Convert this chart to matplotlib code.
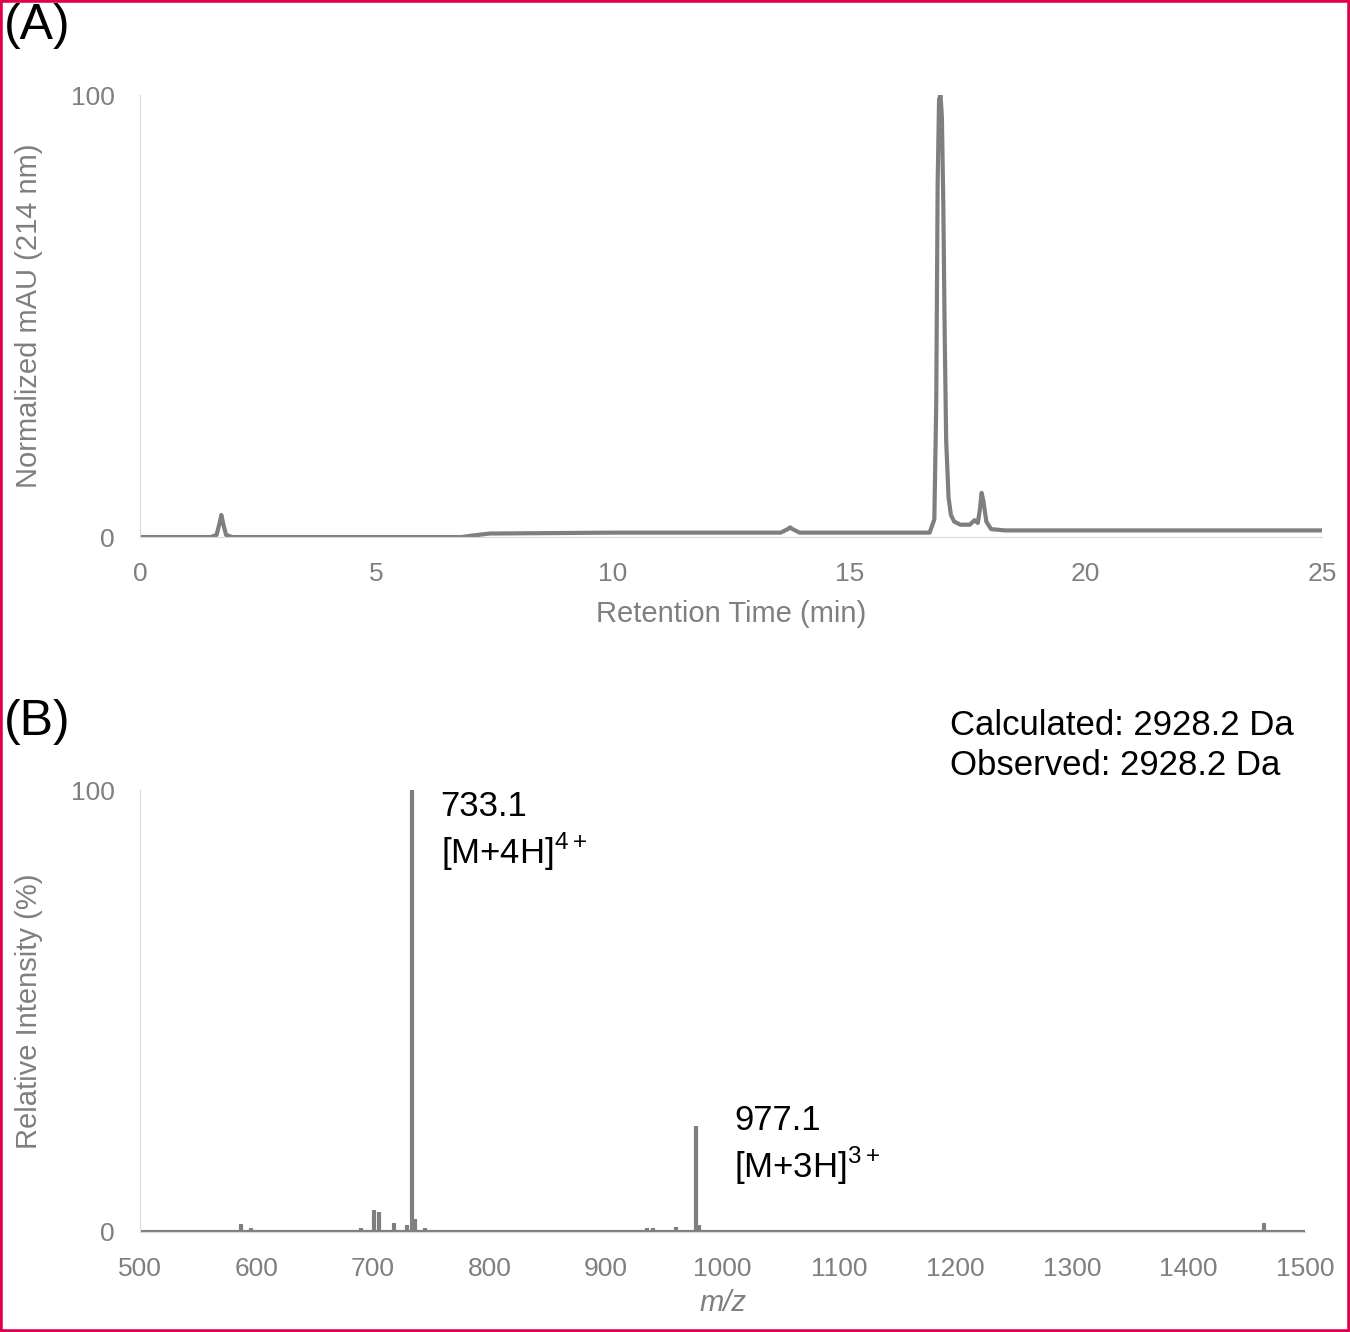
import matplotlib
matplotlib.use('Agg')
import matplotlib.pyplot as plt
from matplotlib.patches import Rectangle

plt.rcParams['font.family'] = ['Liberation Sans', 'DejaVu Sans']

# (A) chromatogram
rt_min = [0, 1.5, 1.62, 1.68, 1.72, 1.76, 1.82, 1.95, 6.8, 7.0, 7.4, 10, 13.55, 13.7, 13.75, 13.8, 13.95,
          16.7, 16.8, 16.84, 16.87, 16.9, 16.93, 16.96, 16.99, 17.02, 17.05, 17.1, 17.15, 17.22, 17.35,
          17.55, 17.65, 17.72, 17.76, 17.8, 17.84, 17.9, 18.0, 18.3, 25]
mau = [0, 0, 0.5, 3, 5, 3, 0.5, 0, 0, 0.3, 0.8, 1, 1, 1.8, 2.2, 1.8, 1,
       1, 4, 30, 80, 99, 100, 95, 75, 45, 22, 9, 5, 3.5, 2.8,
       2.8, 3.8, 3.2, 6, 10, 8, 3.5, 1.8, 1.5, 1.5]

# (B) mass spectrum sticks
mz = [570, 587, 595, 690, 701, 705, 718, 729, 733.1, 736, 745, 765, 840, 935, 940, 960, 977.1, 980, 1465]
intensity = [0.5, 1.8, 1.0, 0.8, 5, 4.5, 2, 1.5, 100, 3, 1, 0.5, 0.4, 1, 0.8, 1.2, 24, 1.5, 2]

grey = '#7f7f7f'
light = '#d9d9d9'
fig = plt.figure(figsize=(13.5, 13.32), dpi=100)
fig.patches.append(Rectangle((0, 0), 1, 1, transform=fig.transFigure, fill=False,
                             edgecolor='#e0004d', linewidth=4))

def style(ax):
    for s in ['top', 'right']:
        ax.spines[s].set_visible(False)
    ax.spines['left'].set_color(light)
    ax.spines['bottom'].set_color(light)
    ax.tick_params(length=0, labelsize=19, colors=grey, pad=18)
    ax.set_yticks([0, 100])

axA = fig.add_axes([0.1037, 0.5968, 0.8756, 0.3318])
axA.plot(rt_min, mau, color=grey, lw=3, solid_joinstyle='round')
axA.set_xlim(0, 25)
axA.set_ylim(0, 100)
axA.set_xticks([0, 5, 10, 15, 20, 25])
style(axA)
axA.set_xlabel('Retention Time (min)', fontsize=21, color=grey, labelpad=10)
axA.set_ylabel('Normalized mAU (214 nm)', fontsize=21, color=grey, labelpad=20)

axB = fig.add_axes([0.1037, 0.0751, 0.863, 0.3318])
axB.vlines(mz, 0, intensity, color=grey, lw=3)
axB.axhline(0, color=grey, lw=3)
axB.set_xlim(500, 1500)
axB.set_ylim(0, 100)
axB.set_xticks(range(500, 1501, 100))
style(axB)
axB.set_xlabel('m/z', fontsize=21, color=grey, style='italic', labelpad=6)
axB.set_ylabel('Relative Intensity (%)', fontsize=21, color=grey, labelpad=20)

sup4 = '[M+4H]$^{\\mathregular{4+}}$'
sup3 = '[M+3H]$^{\\mathregular{3+}}$'
axB.text(758, 100, '733.1\n' + sup4, fontsize=25, va='top', linespacing=1.25)
axB.text(1010, 29, '977.1\n' + sup3, fontsize=25, va='top', linespacing=1.25)
fig.text(0.704, 0.468, 'Calculated: 2928.2 Da\nObserved: 2928.2 Da', fontsize=25,
         ha='left', va='top', linespacing=1.3)

fig.text(0.003, 0.998, '(A)', fontsize=36, va='top')
fig.text(0.003, 0.475, '(B)', fontsize=36, va='top')

fig.savefig('out.png', dpi=100)
